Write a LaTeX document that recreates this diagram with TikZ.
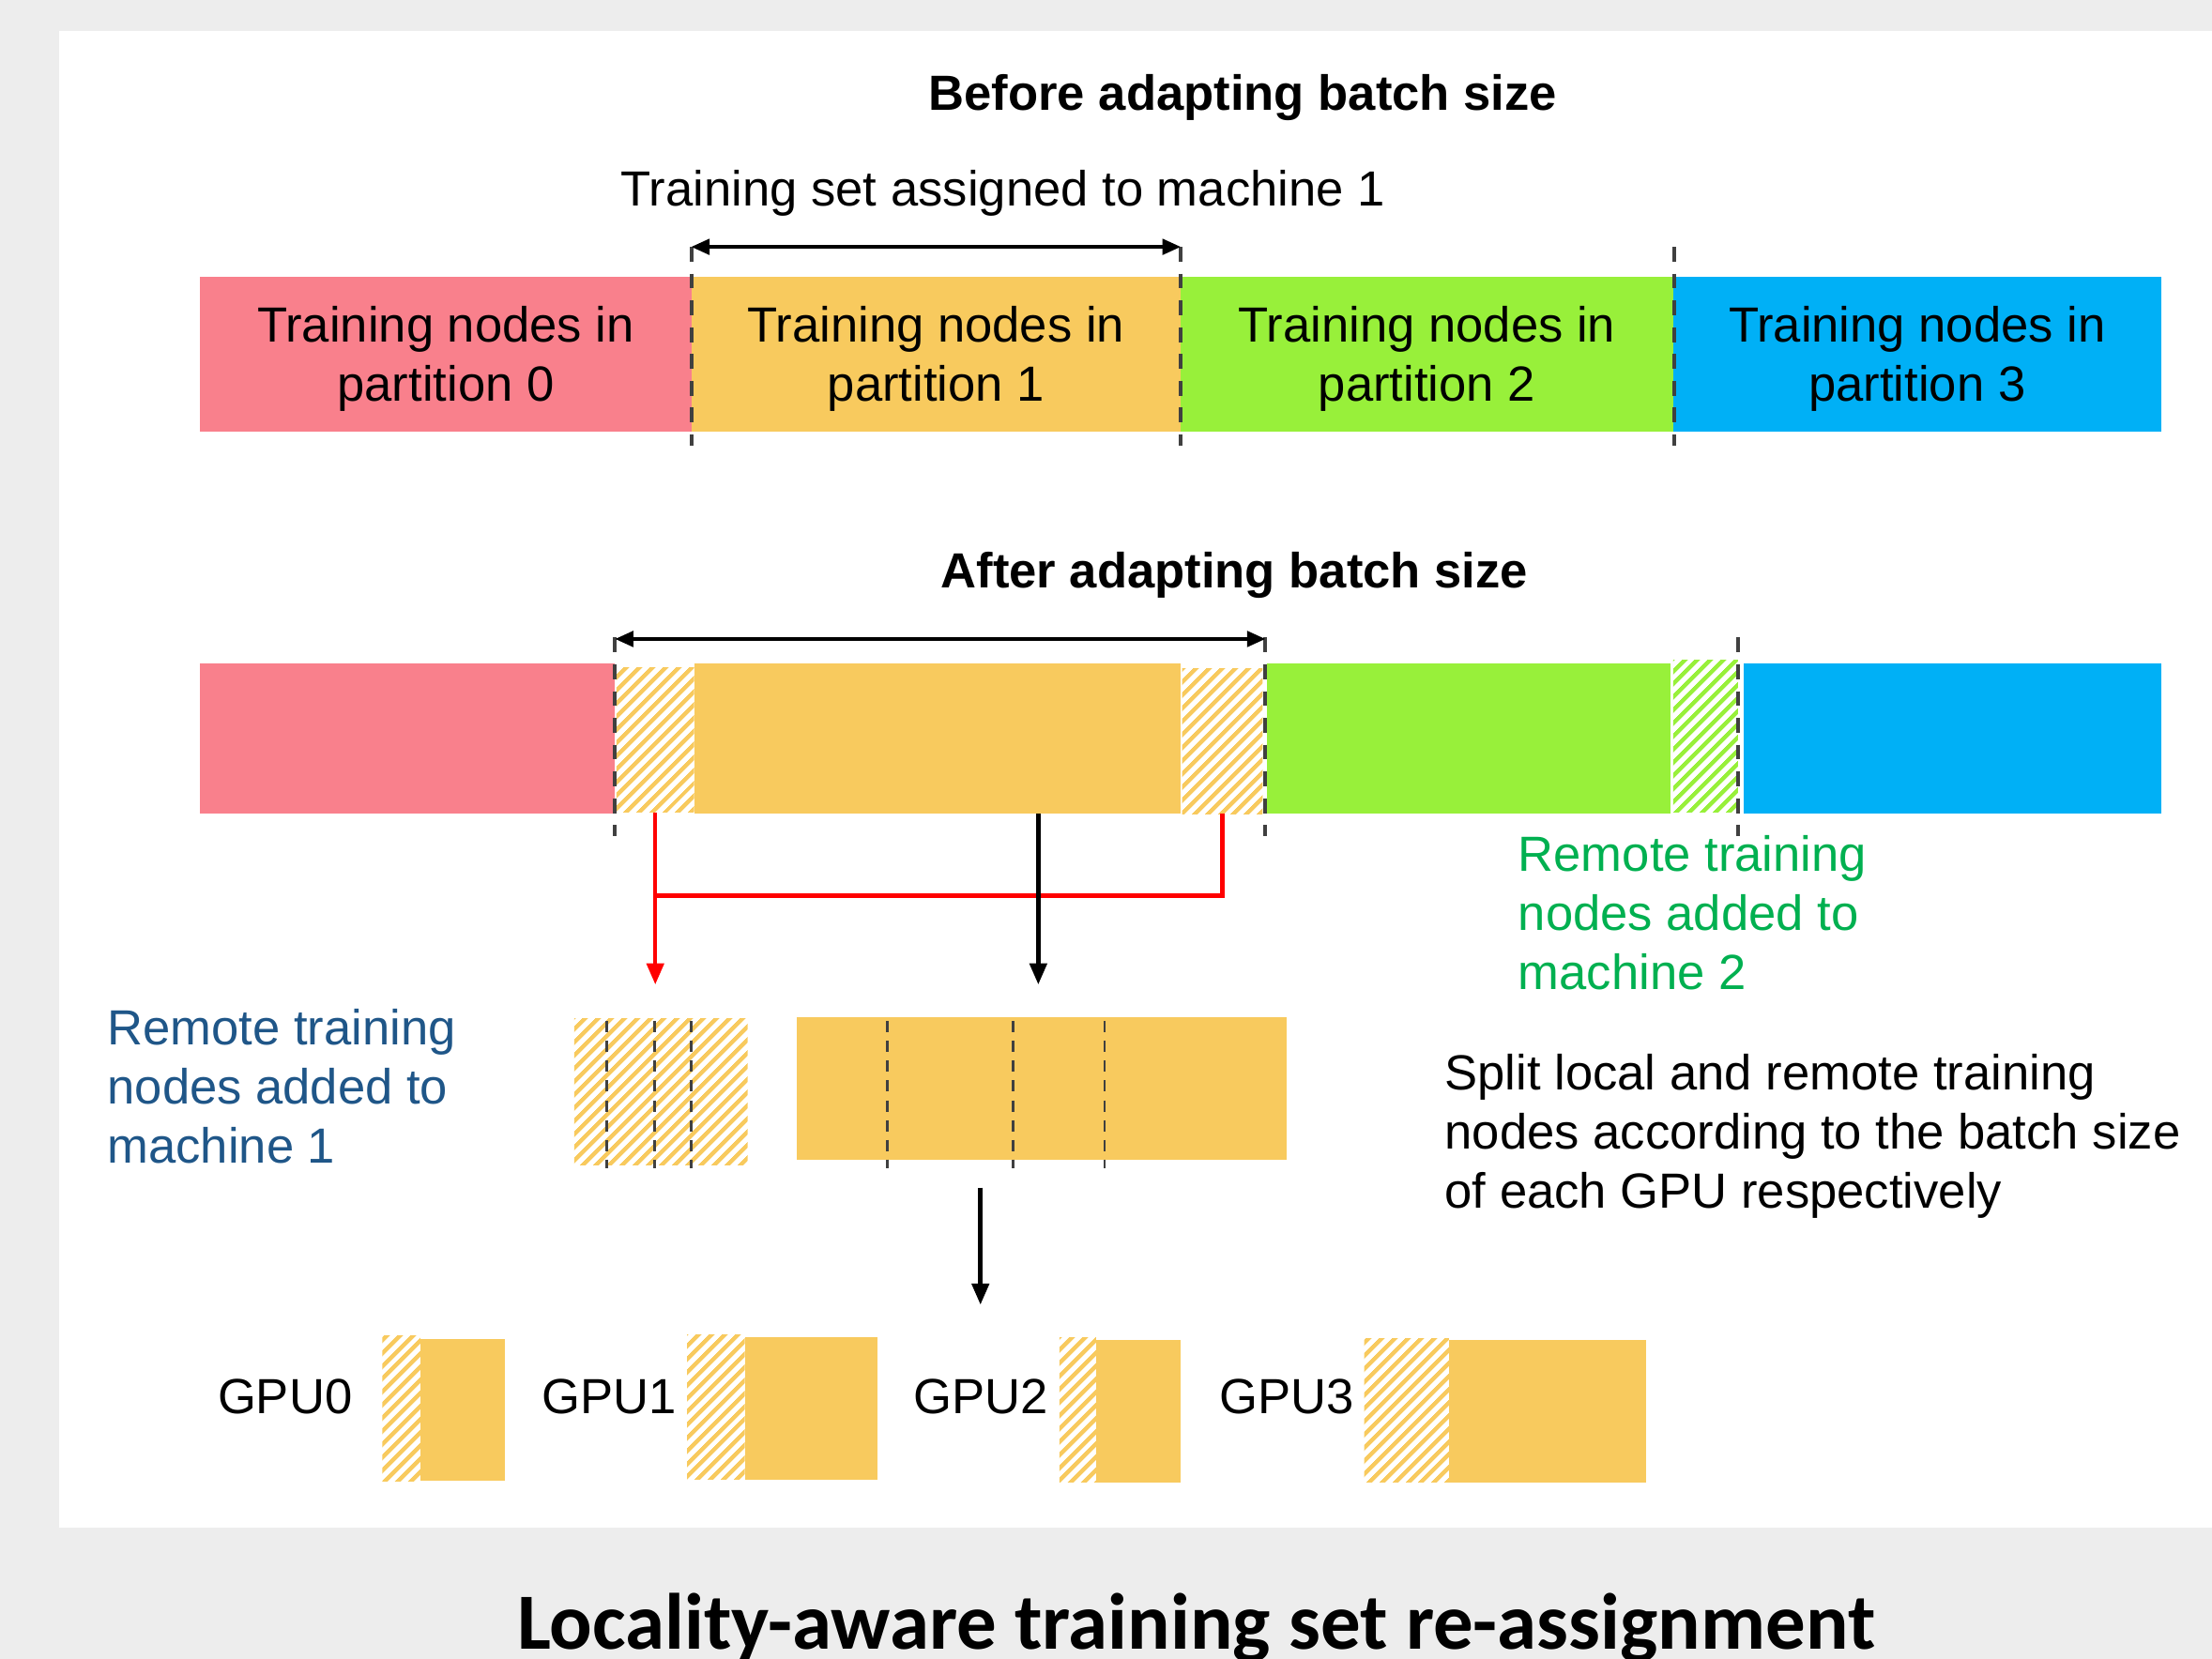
\documentclass[tikz,border=0pt]{standalone}
\usepackage{fontspec}
\setmainfont{Liberation Sans}
\newfontfamily\captionfont{Carlito}
\usetikzlibrary{positioning}
\usetikzlibrary{arrows.meta}
\usetikzlibrary{patterns.meta}

\definecolor{partred}{RGB}{249,128,140}
\definecolor{partyellow}{RGB}{248,202,94}
\definecolor{partgreen}{RGB}{152,240,58}
\definecolor{partblue}{RGB}{0,176,246}
\definecolor{cutgray}{RGB}{64,64,64}
\definecolor{panelgray}{RGB}{237,237,237}
\definecolor{remoteblue}{RGB}{31,86,136}
\definecolor{remotegreen}{RGB}{0,176,80}

\tikzset{
  bar/.style={rectangle, inner sep=0pt, outer sep=0pt, anchor=north west, align=center, text depth=1pt},
  hatched/.style={bar, pattern={Lines[angle=45,distance=6.5pt,line width=3pt]}, pattern color=#1},
  cut/.style={draw=cutgray, line width=2.7pt, dash pattern=on 10.5pt off 8.5pt},
  slice/.style={draw=cutgray, line width=1.8pt, dash pattern=on 8pt off 6pt},
  span/.style={{Triangle[length=13pt,width=11pt]}-{Triangle[length=13pt,width=11pt]}, line width=2.4pt},
  move/.style={-{Triangle[length=15pt,width=12pt]}, line width=3pt},
  note/.style={anchor=north west, inner sep=0pt, align=left},
}

\begin{document}
\begin{tikzpicture}[x=1pt, y=-1pt, every node/.style={font=\fontsize{35}{42}\selectfont}]
  \useasboundingbox (0,0) rectangle (1568,1176);
  \fill[panelgray] (0,0) rectangle (1568,1176);
  \fill[white] (42,22) rectangle (1568,1083);

  % before adapting
  \node[anchor=base, font=\fontsize{35}{42}\selectfont\bfseries] (before) at (881,78) {Before adapting batch size};
  \node[anchor=base] (assigned) at (711,146) {Training set assigned to machine 1};

  \node[bar, fill=partred,    minimum width=348pt, minimum height=110pt] (p0) at (142,196)  {Training nodes in\\partition 0};
  \node[bar, fill=partyellow, minimum width=347pt, minimum height=110pt] (p1) at (490,196)  {Training nodes in\\partition 1};
  \node[bar, fill=partgreen,  minimum width=349pt, minimum height=110pt] (p2) at (837,196)  {Training nodes in\\partition 2};
  \node[bar, fill=partblue,   minimum width=346pt, minimum height=110pt] (p3) at (1186,196) {Training nodes in\\partition 3};

  \foreach \x in {490,837,1187}
    \draw[cut] (\x,175) -- (\x,316);
  \coordinate (a0) at (490,175);
  \coordinate (a1) at (837,175);
  \draw[span] (a0) -- (a1);

  % after adapting
  \node[anchor=base, font=\fontsize{35}{42}\selectfont\bfseries] (after) at (875,417) {After adapting batch size};

  \node[bar, fill=partred,    minimum width=294pt, minimum height=107pt] (q0) at (142,470)  {};
  \node[hatched=partyellow,   minimum width=55pt,  minimum height=103pt] (h1) at (437,473)  {};
  \node[bar, fill=partyellow, minimum width=345pt, minimum height=107pt] (q1) at (492,470)  {};
  \node[hatched=partyellow,   minimum width=57pt,  minimum height=103pt] (h2) at (838,474)  {};
  \node[bar, fill=partgreen,  minimum width=286pt, minimum height=107pt] (q2) at (898,470)  {};
  \node[hatched=partgreen,    minimum width=46pt,  minimum height=108pt] (h3) at (1186,468) {};
  \node[bar, fill=partblue,   minimum width=296pt, minimum height=107pt] (q3) at (1236,470) {};

  \foreach \x in {436,897,1232}
    \draw[cut] (\x,452) -- (\x,593);
  \coordinate (b0) at (436,453);
  \coordinate (b1) at (897,453);
  \draw[span] (b0) -- (b1);

  % moving nodes to the machine
  \coordinate (drop1) at (464.5,698);
  \coordinate (join) at (464.5,635);
  \coordinate (drop2) at (736,698);
  \draw[move, red] (h1.south) -- (drop1);
  \draw[red, line width=3pt] (h2.south) |- (join);
  \draw[move] (q1.south -| drop2) -- (drop2);

  \node[note, text=remotegreen] (remote2) at (1076,592) {Remote training\\nodes added to\\machine 2};
  \node[note, text=remoteblue] (remote1) at (76,715) {Remote training\\nodes added to\\machine 1};

  \node[hatched=partyellow,   minimum width=123pt, minimum height=104pt] (rb) at (407,722) {};
  \node[bar, fill=partyellow, minimum width=347pt, minimum height=101pt] (lb) at (565,721) {};
  \foreach \x in {430,464,490,629,718,783}
    \draw[slice] (\x,724) -- (\x,828);

  \node[note] (splitnote) at (1024,747) {Split local and remote training\\nodes according to the batch size\\of each GPU respectively};

  \coordinate (s0) at (695,842);
  \coordinate (s1) at (695,925);
  \draw[move] (s0) -- (s1);

  % per GPU
  \node (gpu0) at (202,990) {GPU0};
  \node (gpu1) at (432,990) {GPU1};
  \node (gpu2) at (695,990) {GPU2};
  \node (gpu3) at (912,990) {GPU3};

  \node[hatched=partyellow,   minimum width=27pt,  minimum height=103pt] (g0h) at (271,947)  {};
  \node[bar, fill=partyellow, minimum width=60pt,  minimum height=101pt] (g0)  at (298,949)  {};
  \node[hatched=partyellow,   minimum width=41pt,  minimum height=103pt] (g1h) at (487,946)  {};
  \node[bar, fill=partyellow, minimum width=94pt,  minimum height=101pt] (g1)  at (528,948)  {};
  \node[hatched=partyellow,   minimum width=26pt,  minimum height=103pt] (g2h) at (751,948)  {};
  \node[bar, fill=partyellow, minimum width=60pt,  minimum height=101pt] (g2)  at (777,950)  {};
  \node[hatched=partyellow,   minimum width=60pt,  minimum height=102pt] (g3h) at (967,949)  {};
  \node[bar, fill=partyellow, minimum width=140pt, minimum height=101pt] (g3)  at (1027,950) {};

  \node[anchor=base, font=\captionfont\fontsize{56.5}{60}\selectfont\bfseries] (caption) at (848,1169) {Locality-aware training set re-assignment};
\end{tikzpicture}
\end{document}
